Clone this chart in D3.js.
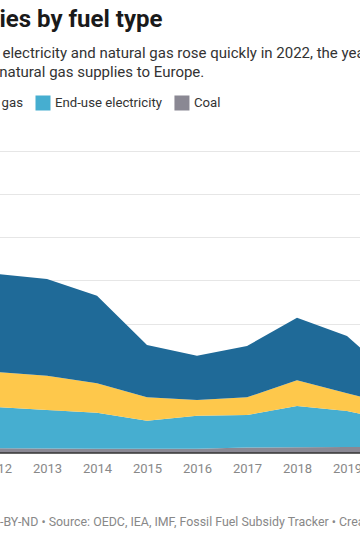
<!DOCTYPE html>
<html>
<head>
<meta charset="utf-8">
<script src="https://cdn.jsdelivr.net/npm/d3@7"></script>
<style>
  html, body { margin: 0; padding: 0; background: #fff; }
  svg { display: block; overflow: hidden; font-family: Roboto, "Noto Sans", sans-serif; }
</style>
</head>
<body>
<svg id="chart" width="360" height="540"></svg>
<script>
// ---- data (billion USD) ----
const years       = [2012, 2013, 2014, 2015, 2016, 2017, 2018, 2019, 2020];
const coal        = [22, 21, 20, 20, 20, 25, 27, 28, 26];
const electricity = [191, 178, 167, 130, 153, 151, 191, 167, 118];
const naturalGas  = [162, 159, 136, 108, 73, 82, 119, 82, 74];
const oil         = [455, 449, 406, 243, 205, 238, 290, 265, 120];
const seriesNames = ["Oil", "Natural gas", "End-use electricity", "Coal"];
const seriesColors = ["#1f6a98", "#fec84b", "#46aed0", "#8a8893"];
const gridValues  = [0, 200, 400, 600, 800, 1000, 1200, 1400];

const titleText = "Fossil fuel subsidies by fuel type";
const subLine1 = "Subsidies for oil, end-use electricity and natural gas rose quickly in 2022, the year Russia cut";
const subLine2 = "off natural gas supplies to Europe.";
const footerText = "Chart: The Conversation, CC-BY-ND \u2022 Source: OEDC, IEA, IMF, Fossil Fuel Subsidy Tracker \u2022 Created with Datawrapper";

const svg = d3.select("#chart");

// Place a text so that the character at index `idx` starts at pixel xStart
function placeAt(sel, idx, xStart) {
  sel.attr("x", 0);
  const off = idx > 0 ? sel.node().getSubStringLength(0, idx) : 0;
  sel.attr("x", xStart - off);
  return sel;
}

// ---- header ----
placeAt(svg.append("text").attr("y", 27)
  .attr("font-size", 24).attr("font-weight", 700).attr("fill", "#1a1a1a")
  .text(titleText), titleText.indexOf("ies by"), -0.5);

placeAt(svg.append("text").attr("y", 57.5)
  .attr("font-size", 15).attr("fill", "#333")
  .text(subLine1), subLine1.indexOf("electricity and"), 2.5);

placeAt(svg.append("text").attr("y", 77)
  .attr("font-size", 15).attr("fill", "#333")
  .text(subLine2), subLine2.indexOf("natural"), -0.8);

// ---- legend ----
const legend = svg.append("g").attr("transform", "translate(0,0)");
let lx = 0;
const swatchX = [];
seriesNames.forEach((name, i) => {
  swatchX.push(lx);
  legend.append("rect").attr("x", lx).attr("y", 95.5).attr("width", 15).attr("height", 15)
    .attr("fill", seriesColors[i]);
  const t = legend.append("text").attr("x", lx + 19.5).attr("y", 106.5)
    .attr("font-size", 13.2).attr("fill", "#333").text(name);
  lx += 19.5 + t.node().getComputedTextLength() + 12.5;
});
legend.attr("transform", `translate(${35.5 - swatchX[2]},0)`);

// ---- chart ----
const y0 = 453;
const x = d3.scaleLinear().domain([2012, 2020]).range([-3, 397]);
const y = d3.scaleLinear().domain([0, 1400]).range([y0, 151]);

svg.append("g").selectAll("line").data(gridValues.filter(d => d > 0)).join("line")
  .attr("x1", -60).attr("x2", 420)
  .attr("y1", d => Math.round(y(d)) + 0.5).attr("y2", d => Math.round(y(d)) + 0.5)
  .attr("stroke", "#e6e6e6").attr("stroke-width", 1);

const table = years.map((yr, i) => ({
  year: yr, "Oil": oil[i], "Natural gas": naturalGas[i],
  "End-use electricity": electricity[i], "Coal": coal[i]
}));
const stackOrder = ["Coal", "End-use electricity", "Natural gas", "Oil"];
const stacked = d3.stack().keys(stackOrder)(table);
const area = d3.area()
  .x(d => x(d.data.year))
  .y0(d => y(d[0]))
  .y1(d => y(d[1]));

svg.append("g").selectAll("path").data(stacked).join("path")
  .attr("d", area)
  .attr("fill", d => seriesColors[seriesNames.indexOf(d.key)]);

// baseline
svg.append("line").attr("x1", -60).attr("x2", 420).attr("y1", y0).attr("y2", y0)
  .attr("stroke", "#333").attr("stroke-width", 1.5);

// x axis labels
const xAxis = d3.axisBottom(x).tickValues(years).tickFormat(d3.format("d"))
  .tickSize(0).tickPadding(10.5);
const gx = svg.append("g").attr("transform", `translate(0,${y0})`).call(xAxis);
gx.select(".domain").remove();
gx.selectAll("text").attr("font-size", 13).attr("fill", "#888")
  .attr("font-family", "Roboto, 'Noto Sans', sans-serif");

// ---- footer ----
placeAt(svg.append("text").attr("y", 525.5)
  .attr("font-size", 12.4).attr("fill", "#888")
  .text(footerText), footerText.indexOf("-BY-ND"), 0);
</script>
</body>
</html>
